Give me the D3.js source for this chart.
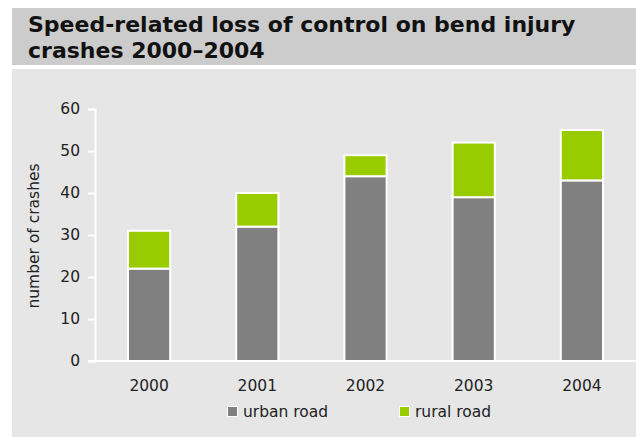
<!DOCTYPE html>
<html>
<head>
<meta charset="utf-8">
<script src="https://cdn.jsdelivr.net/npm/d3@7"></script>
<style>
  html, body { margin: 0; padding: 0; background: #ffffff; }
  svg { display: block; }
</style>
</head>
<body>
<svg id="chart" width="636" height="437"></svg>
<script>
// Data: injury crashes per year, split by road type
const years = ["2000", "2001", "2002", "2003", "2004"];
const urbanRoad = [22, 32, 44, 39, 43];
const ruralRoad = [9, 8, 5, 13, 12];
const seriesNames = ["urban road", "rural road"];
const seriesColors = ["#808080", "#99cc00"];
const yTicks = [0, 10, 20, 30, 40, 50, 60];

const svg = d3.select("#chart");
const font = "Verdana, 'DejaVu Sans', sans-serif";
const textSize = 15.5;

// Title band and plot panel
svg.append("rect").attr("x", 12).attr("y", 8).attr("width", 624).attr("height", 57).attr("fill", "#cccccc");
svg.append("rect").attr("x", 12).attr("y", 69).attr("width", 624).attr("height", 368).attr("fill", "#e6e6e6");

const title = svg.append("text")
  .attr("font-family", font).attr("font-weight", "bold").attr("font-size", 22)
  .attr("fill", "#111111");
title.append("tspan").attr("x", 28).attr("y", 32).text("Speed-related loss of control on bend injury");
title.append("tspan").attr("x", 28).attr("y", 58).text("crashes 2000\u20132004");

const x = d3.scaleBand().domain(years).range([95, 636]).paddingInner(0.61).paddingOuter(0.305);
const y = d3.scaleLinear().domain([0, 60]).range([361, 109]);

const rows = years.map((yr, i) => ({ year: yr, urban: urbanRoad[i], rural: ruralRoad[i] }));
const stack = d3.stack().keys(["urban", "rural"])(rows);

// Y axis
const yAxis = svg.append("g").attr("transform", "translate(95,0)")
  .call(d3.axisLeft(y).tickValues(yTicks).tickSize(7).tickPadding(8));
yAxis.select(".domain").attr("stroke", "#ffffff").attr("stroke-width", 2);
yAxis.selectAll(".tick line").attr("stroke", "#ffffff").attr("stroke-width", 2);
yAxis.selectAll(".tick text").attr("font-family", font).attr("font-size", textSize).attr("fill", "#222222");

svg.append("text")
  .attr("transform", "translate(39,236) rotate(-90)")
  .attr("text-anchor", "middle")
  .attr("font-family", font).attr("font-size", textSize).attr("fill", "#222222")
  .text("number of crashes");

// Stacked bars
svg.append("g").selectAll("g").data(stack).join("g")
  .attr("fill", (d, i) => seriesColors[i])
  .selectAll("rect").data(d => d).join("rect")
  .attr("x", d => x(d.data.year))
  .attr("y", d => y(d[1]))
  .attr("width", x.bandwidth())
  .attr("height", d => y(d[0]) - y(d[1]))
  .attr("stroke", "#ffffff").attr("stroke-width", 2);

// Baseline
svg.append("line").attr("x1", 88).attr("x2", 636).attr("y1", y(0)).attr("y2", y(0))
  .attr("stroke", "#ffffff").attr("stroke-width", 2);

// X axis labels
const xAxis = svg.append("g").attr("transform", `translate(0,${y(0)})`)
  .call(d3.axisBottom(x).tickSize(0).tickPadding(19));
xAxis.select(".domain").remove();
xAxis.selectAll(".tick text").attr("font-family", font).attr("font-size", textSize).attr("fill", "#222222");

// Legend
const legendX = [227, 399];
const legend = svg.append("g").selectAll("g").data(seriesNames).join("g")
  .attr("transform", (d, i) => `translate(${legendX[i]},406)`);
legend.append("rect").attr("width", 11).attr("height", 11).attr("fill", "#ffffff");
legend.append("rect").attr("x", 1).attr("y", 1).attr("width", 9).attr("height", 9)
  .attr("fill", (d, i) => seriesColors[i]);
legend.append("text").attr("x", 16).attr("y", 11)
  .attr("font-family", font).attr("font-size", textSize).attr("fill", "#222222")
  .text(d => d);
</script>
</body>
</html>
